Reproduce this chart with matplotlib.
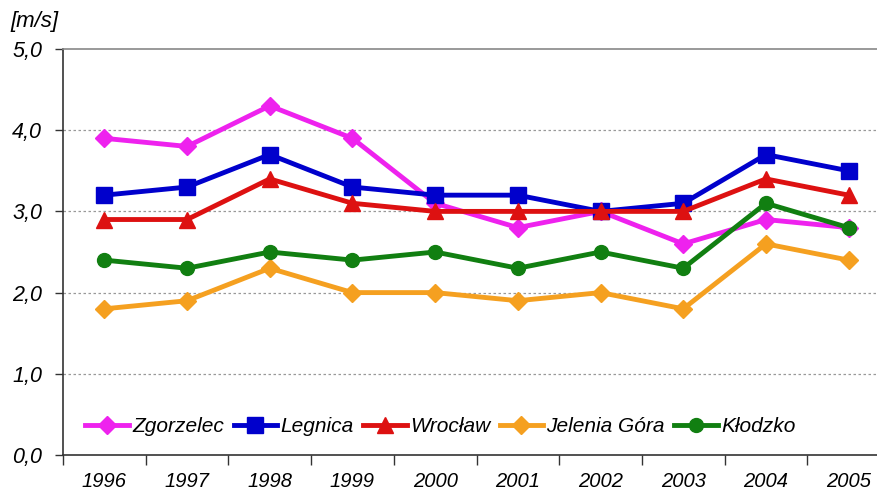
import matplotlib as mpl
import matplotlib.pyplot as plt
import numpy as np

# Average wind speed [m/s] by station, 1996-2005
years = ['1996', '1997', '1998', '1999', '2000', '2001', '2002', '2003', '2004', '2005']
zgorzelec = [3.9, 3.8, 4.3, 3.9, 3.1, 2.8, 3.0, 2.6, 2.9, 2.8]
legnica = [3.2, 3.3, 3.7, 3.3, 3.2, 3.2, 3.0, 3.1, 3.7, 3.5]
wroclaw = [2.9, 2.9, 3.4, 3.1, 3.0, 3.0, 3.0, 3.0, 3.4, 3.2]
jelenia_gora = [1.8, 1.9, 2.3, 2.0, 2.0, 1.9, 2.0, 1.8, 2.6, 2.4]
klodzko = [2.4, 2.3, 2.5, 2.4, 2.5, 2.3, 2.5, 2.3, 3.1, 2.8]
y_ticks = [0.0, 1.0, 2.0, 3.0, 4.0, 5.0]

mpl.rcParams['font.family'] = ['Liberation Sans', 'DejaVu Sans']
mpl.rcParams['font.style'] = 'italic'

fig = plt.figure(figsize=(8.78, 4.93), dpi=100)
ax = fig.add_axes([63 / 878, 38 / 493, 827 / 878, 406 / 493])

x = np.arange(len(years))
series = [
    ('Zgorzelec', zgorzelec, '#EE22EE', 'D', 9),
    ('Legnica', legnica, '#0000CC', 's', 11),
    ('Wrocław', wroclaw, '#DD1111', '^', 11),
    ('Jelenia Góra', jelenia_gora, '#F5A020', 'D', 9),
    ('Kłodzko', klodzko, '#117F11', 'o', 10),
]
for name, vals, col, mk, ms in series:
    ax.plot(x, vals, color=col, marker=mk, markersize=ms, linewidth=3.5,
            label=name, clip_on=False)

ax.set_xlim(-0.5, len(years) - 0.5)
ax.set_ylim(0, 5)

# category boundaries get the tick marks, labels sit in between
ax.set_xticks(np.arange(-0.5, len(years), 1.0))
ax.set_xticklabels([])
ax.set_xticks(x, minor=True)
ax.set_xticklabels(years, minor=True)
ax.tick_params(axis='x', which='major', length=7, width=1, color='#333333')
ax.tick_params(axis='x', which='minor', length=0, pad=12, labelsize=14.5)

ax.set_yticks(y_ticks)
ax.set_yticklabels([f'{v:.1f}'.replace('.', ',') for v in y_ticks])
ax.tick_params(axis='y', length=6, width=1, color='#333333', pad=9, labelsize=15.5)

for v in y_ticks[1:-1]:
    ax.axhline(v, color='#999999', linestyle=(0, (2, 2)), linewidth=0.9, zorder=0)

ax.spines['right'].set_visible(False)
ax.spines['top'].set_color('#888888')
ax.spines['top'].set_linewidth(1.2)
ax.spines['left'].set_color('#333333')
ax.spines['bottom'].set_color('#333333')
ax.spines['left'].set_linewidth(1.2)
ax.spines['bottom'].set_linewidth(1.2)

fig.text(10 / 878, 1 - 22 / 493, '[m/s]', fontsize=16, va='center', ha='left')

ax.legend(loc='center left', bbox_to_anchor=(0.017, 0.069), ncol=5, frameon=False,
          fontsize=15, handlelength=2.1, handletextpad=0.15, columnspacing=0.45,
          borderaxespad=0)

fig.savefig('out.png', dpi=100, facecolor='white')
